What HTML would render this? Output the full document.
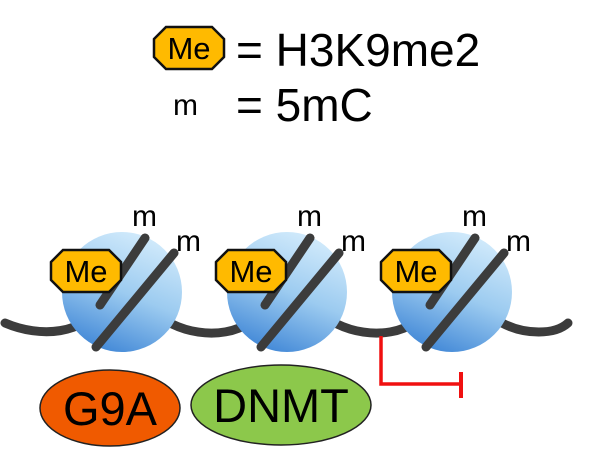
<!DOCTYPE html>
<html><head><meta charset="utf-8"><style>
html,body{margin:0;padding:0;background:#fff;width:600px;height:476px;overflow:hidden}
svg text{font-family:"Liberation Sans",Arial,sans-serif}
</style></head><body>
<svg width="600" height="476" viewBox="0 0 600 476" xmlns="http://www.w3.org/2000/svg">
<defs>
<linearGradient id="g" x1="0.7" y1="0" x2="0.3" y2="1">
<stop offset="0" stop-color="#d4ecfc"/><stop offset="0.5" stop-color="#9ccbf0"/><stop offset="1" stop-color="#3f86d6"/>
</linearGradient>
<g id="me">
<polygon points="-23,-21 23,-21 35,-9 35,9 23,21 -23,21 -35,9 -35,-9" fill="#ffba00" stroke="#111" stroke-width="2.5"/>
<text x="0" y="11" font-size="31" text-anchor="middle" fill="#000">Me</text>
</g>
<g id="nuc">
<circle cx="122" cy="292" r="60" fill="url(#g)"/>
<path d="M100 305 L145 238" stroke="#3c3c3c" stroke-width="9" stroke-linecap="round" fill="none"/>
<path d="M96 347 L174 253" stroke="#3c3c3c" stroke-width="9" stroke-linecap="round" fill="none"/>
<use href="#me" transform="translate(86,271)"/>
<text x="132" y="226" font-size="30">m</text>
<text x="176" y="251" font-size="30">m</text>
</g>
</defs>

<use href="#me" transform="translate(189,48)"/>
<text x="236" y="66" font-size="46">= H3K9me2</text>
<text x="173" y="115" font-size="30">m</text>
<text x="236" y="121" font-size="46">= 5mC</text>

<path d="M5 323 C40 338 85 335 102 303" stroke="#3c3c3c" stroke-width="9" stroke-linecap="round" fill="none"/>
<path d="M172 324 C205 340 250 336 267 303" stroke="#3c3c3c" stroke-width="9" stroke-linecap="round" fill="none"/>
<path d="M337 324 C370 340 415 336 432 303" stroke="#3c3c3c" stroke-width="9" stroke-linecap="round" fill="none"/>
<path d="M502 323 C525 335 555 335 568 323" stroke="#3c3c3c" stroke-width="9" stroke-linecap="round" fill="none"/>
<use href="#nuc"/>
<use href="#nuc" transform="translate(165,0)"/>
<use href="#nuc" transform="translate(330,0)"/>

<path d="M381 336 L381 384 L461 384" stroke="#f01010" stroke-width="3.5" fill="none"/>
<path d="M461 372 L461 398" stroke="#f01010" stroke-width="4" fill="none"/>

<ellipse cx="110" cy="408" rx="70" ry="38" fill="#f05a00" stroke="#222" stroke-width="1.5"/>
<text x="110" y="425" font-size="47" text-anchor="middle">G9A</text>
<ellipse cx="281" cy="405" rx="90" ry="40" fill="#8cc84b" stroke="#222" stroke-width="1.5"/>
<text x="281" y="422" font-size="47" text-anchor="middle">DNMT</text>
</svg>
</body></html>
